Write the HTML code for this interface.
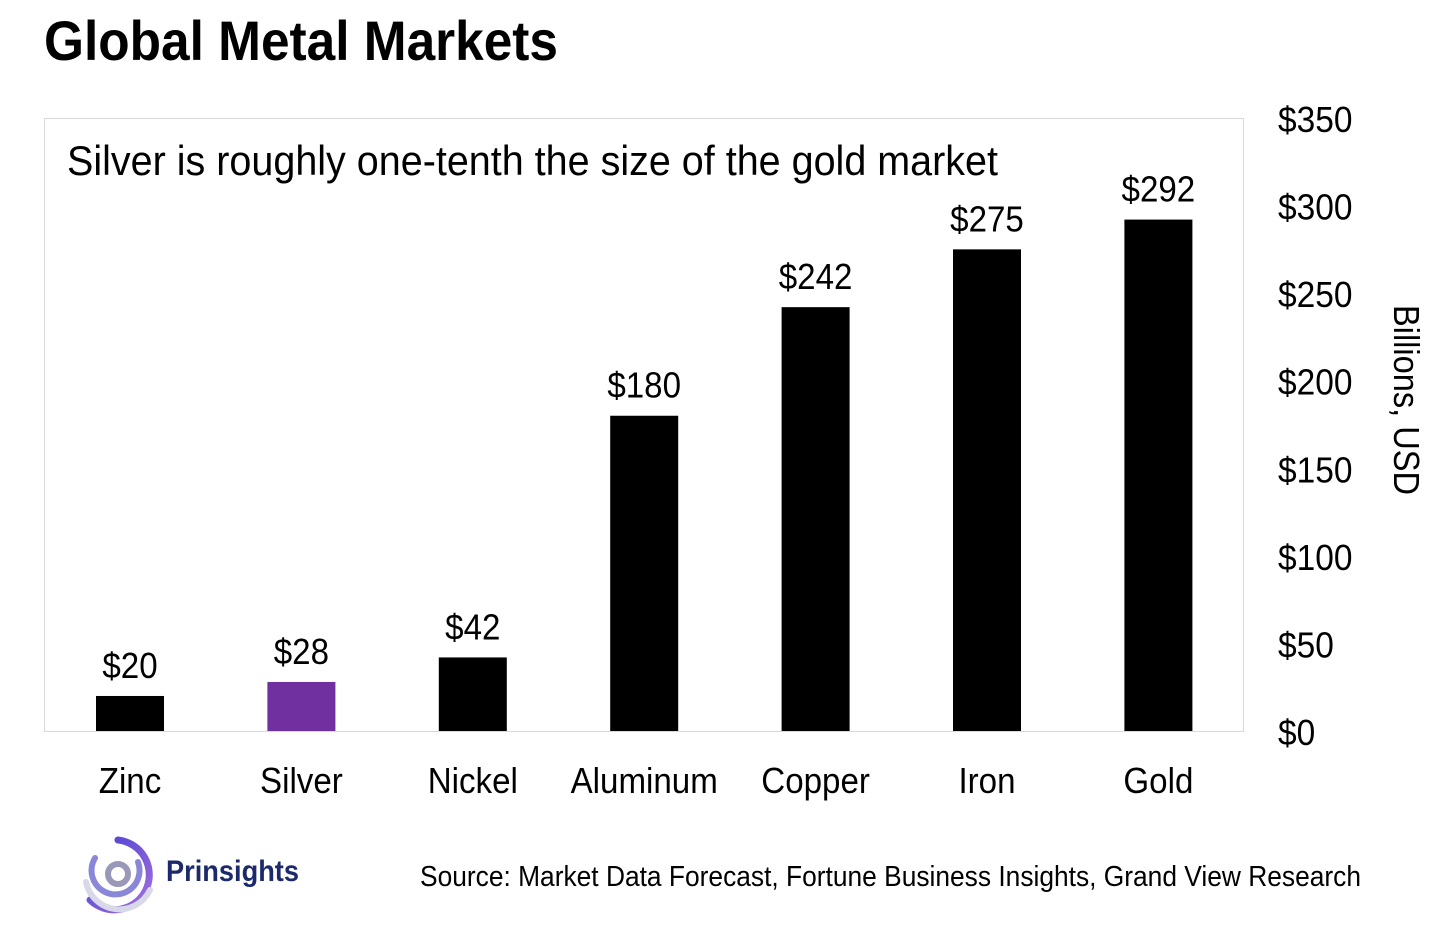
<!DOCTYPE html>
<html><head><meta charset="utf-8"><style>
body{margin:0;background:#fff;}
svg{display:block;font-family:"Liberation Sans",Arial,sans-serif;}
</style></head><body>
<svg id="c" width="1456" height="929" viewBox="0 0 1456 929">
<text x="44" y="60" font-size="56" font-weight="bold" textLength="514" lengthAdjust="spacingAndGlyphs">Global Metal Markets</text>
<rect x="44.5" y="118.5" width="1199" height="613" fill="#fff" stroke="#d9d9d9" stroke-width="1"/>
<text x="67" y="175" font-size="42" textLength="931" lengthAdjust="spacingAndGlyphs">Silver is roughly one-tenth the size of the gold market</text>
<g id="bars"></g>
<g id="yticks"></g>
<text transform="translate(1394,400) rotate(90)" text-anchor="middle" font-size="36" textLength="190" lengthAdjust="spacingAndGlyphs">Billions, USD</text>
<g>
<defs><linearGradient id="lg" x1="0" y1="0" x2="1" y2="1"><stop offset="0" stop-color="#4a3fd0"/><stop offset="1" stop-color="#a070e0"/></linearGradient></defs>
<path d="M118 840 A35 35 0 1 1 90 900" fill="none" stroke="url(#lg)" stroke-width="7" stroke-linecap="round"/>
<path d="M95 858 A24 24 0 1 0 138 862" fill="none" stroke="#8a86d8" stroke-width="6" stroke-linecap="round"/>
<circle cx="118" cy="874" r="10" fill="none" stroke="#9a98b8" stroke-width="6"/>
<path d="M86 882 A34 34 0 0 0 150 890" fill="none" stroke="#d8d8e8" stroke-width="6" stroke-linecap="round"/>
<text x="166" y="881" font-size="30" font-weight="bold" fill="#1c2a6b" textLength="133" lengthAdjust="spacingAndGlyphs">Prinsights</text>
</g>
<text x="420" y="886" font-size="29" textLength="941" lengthAdjust="spacingAndGlyphs">Source: Market Data Forecast, Fortune Business Insights, Grand View Research</text>
</svg>
<script>
const categories=["Zinc","Silver","Nickel","Aluminum","Copper","Iron","Gold"];
const values=[20,28,42,180,242,275,292];
const valueLabels=["$20","$28","$42","$180","$242","$275","$292"];
const yTicks=[0,50,100,150,200,250,300,350];
const yTickLabels=["$0","$50","$100","$150","$200","$250","$300","$350"];
const NS="http://www.w3.org/2000/svg";
const y0=731,yTop=118,vmax=350;
function yScale(v){return y0-(v/vmax)*(y0-yTop);}
function xScale(i){return 130+i*171.4;}
const bw=68;
const bars=document.getElementById('bars');
categories.forEach((c,i)=>{
  const r=document.createElementNS(NS,'rect');
  r.setAttribute('x',xScale(i)-bw/2);r.setAttribute('y',yScale(values[i]));
  r.setAttribute('width',bw);r.setAttribute('height',y0-yScale(values[i]));
  r.setAttribute('fill',c==="Silver"?"#7030a0":"#000");
  
  
  bars.appendChild(r);
  const t=document.createElementNS(NS,'text');
  t.setAttribute('x',xScale(i));t.setAttribute('y',yScale(values[i])-18);
  t.setAttribute('text-anchor','middle');t.setAttribute('font-size','36');
  t.setAttribute('transform','translate('+xScale(i)+',0) scale(0.92,1) translate('+(-xScale(i))+',0)');
  t.textContent=valueLabels[i];
  
  
  bars.appendChild(t);
  const l=document.createElementNS(NS,'text');
  l.setAttribute('x',xScale(i));l.setAttribute('y',793);
  l.setAttribute('text-anchor','middle');l.setAttribute('font-size','36');
  l.setAttribute('transform','translate('+xScale(i)+',0) scale(0.92,1) translate('+(-xScale(i))+',0)');
  l.textContent=c;
  
  
  bars.appendChild(l);
});
const yt=document.getElementById('yticks');
yTicks.forEach((v,i)=>{
  const t=document.createElementNS(NS,'text');
  t.setAttribute('x',1278);t.setAttribute('y',yScale(v)+14);
  t.setAttribute('font-size','36');
  t.setAttribute('transform','translate(1278,0) scale(0.93,1) translate(-1278,0)');
  t.textContent=yTickLabels[i];
  
  
  yt.appendChild(t);
});
</script>
</body></html>
